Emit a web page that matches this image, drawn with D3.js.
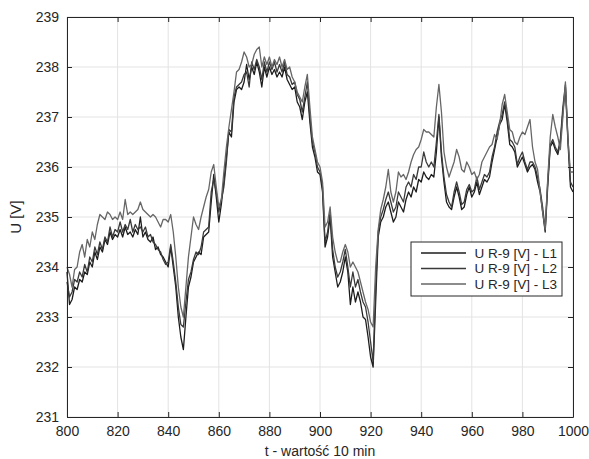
<!DOCTYPE html>
<html>
<head>
<meta charset="utf-8">
<script src="https://cdn.jsdelivr.net/npm/d3@7"></script>
<style>
  html, body { margin: 0; padding: 0; background: #fff; }
  svg text { font-family: "Liberation Sans", Arial, Helvetica, sans-serif; }
</style>
</head>
<body>
<svg id="chart" width="589" height="459"></svg>
<script>
// Voltage readings, one sample per 10-minute step, t = 800 ... 1000
const tStart = 800;
const uL1 = [
  233.9, 233.25, 233.35, 233.6, 233.55, 233.75, 233.7, 233.9, 233.85, 234.1,
  234.0, 234.3, 234.15, 234.4, 234.3, 234.55, 234.45, 234.7, 234.55, 234.65,
  234.6, 234.75, 234.6, 234.8, 234.65, 234.7, 234.6, 234.75, 234.65, 235.0,
  234.6, 234.7, 234.55, 234.5, 234.6, 234.35, 234.4, 234.25, 234.2, 234.1,
  234.0, 234.4, 234.0, 233.6, 233.0, 232.6, 232.35, 233.0, 233.6, 233.8,
  234.1, 234.2, 234.3, 234.25, 234.6, 234.65, 234.7, 235.3, 235.85, 235.4,
  234.9, 235.25, 235.7, 236.2, 236.7, 236.6, 237.3, 237.55, 237.6, 237.55,
  237.7, 238.05, 237.75, 238.0, 237.85, 238.1, 237.9, 237.6, 238.0, 237.8,
  238.0, 237.85, 237.95, 237.8, 237.9, 237.8, 238.0, 237.75, 237.65, 237.55,
  237.6, 237.3, 237.2, 236.95, 237.3, 237.5, 236.9, 236.4, 236.2, 235.9,
  235.85, 235.5, 234.4, 234.6, 235.0, 234.2, 233.9, 233.6, 233.7, 233.9,
  234.2, 233.9, 233.25, 233.6, 233.3, 233.5, 233.3, 233.0, 232.95, 232.6,
  232.2, 232.0, 233.3, 234.6, 234.9, 235.0, 235.2, 235.3, 235.1, 234.9,
  235.0, 235.3, 235.2, 235.1, 235.35, 235.5, 235.4, 235.6, 235.5, 235.75,
  235.7, 235.9, 235.8, 235.75, 235.85, 235.8, 236.3, 237.0, 236.2, 235.7,
  235.3, 235.2, 235.15, 235.4, 235.6, 235.4, 235.15, 235.2, 235.45, 235.6,
  235.4, 235.5, 235.7, 235.45, 235.6, 235.75, 235.7, 235.8, 236.1, 236.35,
  236.6, 236.85, 236.95, 237.25, 236.9, 236.45, 236.4, 236.3, 236.0, 236.1,
  236.2, 236.05, 235.9, 236.0, 236.05, 235.95, 235.7, 235.5, 235.1, 234.7,
  235.6, 236.4, 236.5, 236.35, 236.25, 236.5, 237.1, 237.6, 236.5, 235.6,
  235.5
];
const uL2 = [
  233.7, 233.4, 233.5, 233.75, 233.7, 233.9, 233.8, 234.05, 233.9, 234.2,
  234.1, 234.4, 234.25, 234.5, 234.35, 234.6, 234.5, 234.8, 234.6, 234.75,
  234.7, 234.9, 234.7, 234.85, 234.75, 234.95, 234.7, 234.85, 234.75, 234.8,
  234.7, 234.8, 234.6, 234.65, 234.5, 234.45, 234.35, 234.3, 234.15, 234.05,
  234.1, 234.45, 234.1, 233.7, 233.2, 232.85, 232.8, 233.3, 233.75, 233.9,
  234.15, 234.3, 234.25, 234.4, 234.7, 234.75, 234.8, 235.5, 235.75, 235.5,
  235.1, 235.35, 235.6, 236.1, 236.75, 236.7, 237.4, 237.6, 237.65, 237.7,
  237.85, 237.9, 237.6, 238.1, 237.95, 238.15, 238.0, 237.75, 238.1, 237.9,
  238.1, 237.95, 238.1, 237.9, 238.05, 237.9, 238.1, 237.85, 237.8, 237.65,
  237.7, 237.45, 237.35, 237.1, 237.4, 237.7, 237.0, 236.5, 236.3, 236.0,
  235.9, 235.6, 234.5, 234.7, 235.1, 234.35, 234.0, 233.8, 233.9, 234.1,
  234.35, 234.0, 233.6, 233.9, 233.6, 233.75, 233.5, 233.3, 233.2, 232.9,
  232.5, 232.1, 233.6, 234.7, 235.0, 235.15, 235.35, 235.5, 235.3, 235.1,
  235.2, 235.5, 235.4, 235.3, 235.6, 235.7, 235.6, 235.85, 235.75, 236.0,
  236.0, 236.3, 236.1, 236.0, 236.1, 236.0, 236.5, 237.05, 236.3, 235.8,
  235.45, 235.3, 235.2, 235.5, 235.7, 235.5, 235.25, 235.3, 235.55, 235.65,
  235.5, 235.55, 235.8, 235.55, 235.7, 235.85, 235.8, 235.9, 236.2, 236.4,
  236.7, 236.9, 237.05, 237.3, 237.0, 236.55, 236.5, 236.4, 236.05, 236.2,
  236.3, 236.1, 235.95, 236.1, 236.1, 236.0, 235.8, 235.55, 235.2, 234.75,
  235.7, 236.45, 236.55, 236.4, 236.3, 236.55, 237.2, 237.65, 236.6, 235.7,
  235.6
];
const uL3 = [
  234.0, 233.85, 233.6, 233.95, 234.0, 234.3, 234.45, 234.2, 234.55, 234.4,
  234.7, 234.55, 234.85, 235.05, 235.0, 234.95, 235.1, 235.05, 234.95, 235.0,
  234.95, 235.1, 234.95, 235.35, 235.05, 235.1, 235.05, 235.1, 235.15, 235.3,
  235.15, 235.1, 235.05, 235.0, 235.05, 235.0, 234.9, 234.8, 234.95, 234.95,
  234.9, 235.05, 234.7, 234.2, 233.6, 233.2, 233.0, 233.6, 234.2, 234.6,
  235.0, 234.85, 234.75, 235.0, 235.2, 235.4, 235.55, 235.9, 236.05, 235.6,
  235.2, 235.35, 235.9, 236.4, 236.8, 237.15, 237.5, 237.9, 237.95, 238.1,
  238.3, 238.2, 238.0, 238.05, 238.25, 238.35, 238.4, 238.0, 238.2, 238.05,
  238.2, 238.0, 238.15, 238.05, 238.2, 238.0, 238.15, 237.95, 238.0, 237.8,
  237.7, 237.5, 237.4, 237.3, 237.6, 237.85, 237.2, 236.6, 236.35, 236.1,
  236.0, 235.7, 234.8, 234.9, 235.2, 234.6, 234.3, 234.1, 234.1, 234.3,
  234.45, 234.3, 234.0, 234.1, 234.0, 233.9, 233.7, 233.5, 233.3, 233.15,
  232.9, 232.8, 234.0, 234.75, 235.15, 235.35, 235.6, 235.95, 235.5, 235.3,
  235.5, 235.9, 235.8, 235.85, 235.75, 235.9, 236.1, 236.25, 236.35, 236.4,
  236.55, 236.75, 236.7, 236.7, 236.65, 236.6, 237.2, 237.65, 237.1, 236.3,
  236.0, 235.8, 235.95, 236.1, 236.35, 236.2, 235.95, 235.9, 236.1, 236.0,
  235.85, 235.9, 235.75, 235.85, 236.1, 236.2, 236.3, 236.4, 236.45, 236.65,
  236.55, 236.85, 237.25, 237.45, 237.1, 236.75, 236.7, 236.5, 236.45, 236.6,
  236.7, 236.65, 236.8, 236.95, 236.4, 236.1, 235.95, 235.5, 235.1, 234.75,
  235.75, 236.6, 237.05, 236.8, 236.6, 236.35, 237.0, 237.7, 236.55, 235.9,
  235.9
];
const seriesNames = ["U R-9 [V] - L1", "U R-9 [V] - L2", "U R-9 [V] - L3"];
const seriesColors = ["#1c1c1c", "#3a3a3a", "#666666"];
const xTicks = [800, 820, 840, 860, 880, 900, 920, 940, 960, 980, 1000];
const yTicks = [231, 232, 233, 234, 235, 236, 237, 238, 239];
const xLabel = "t - wartość 10 min";
const yLabel = "U [V]";

const svg = d3.select("#chart");
const plot = { left: 67, top: 17, right: 573, bottom: 417 };

const x = d3.scaleLinear().domain([800, 1000]).range([plot.left, plot.right]);
const y = d3.scaleLinear().domain([231, 239]).range([plot.bottom, plot.top]);

const axisColor = "#262626";
const gridColor = "#e3e3e3";
const fmt = d3.format("d");

// grid
const grid = svg.append("g");
grid.selectAll("line.gx").data(xTicks).join("line")
  .attr("x1", d => x(d)).attr("x2", d => x(d))
  .attr("y1", plot.top).attr("y2", plot.bottom)
  .attr("stroke", gridColor).attr("stroke-width", 1);
grid.selectAll("line.gy").data(yTicks).join("line")
  .attr("y1", d => y(d)).attr("y2", d => y(d))
  .attr("x1", plot.left).attr("x2", plot.right)
  .attr("stroke", gridColor).attr("stroke-width", 1);

// series
const series = [uL1, uL2, uL3];
const line = d3.line()
  .x((d, i) => x(tStart + i))
  .y(d => y(d));
svg.append("g").selectAll("path").data(series).join("path")
  .attr("d", d => line(d))
  .attr("fill", "none")
  .attr("stroke", (d, i) => seriesColors[i])
  .attr("stroke-width", 1.3)
  .attr("stroke-linejoin", "round");

// axes with inward ticks on all four sides
const tickLen = 5;
const axB = svg.append("g").attr("transform", `translate(0,${plot.bottom})`)
  .call(d3.axisBottom(x).tickValues(xTicks).tickFormat(fmt).tickSizeInner(-tickLen).tickSizeOuter(0).tickPadding(9));
const axT = svg.append("g").attr("transform", `translate(0,${plot.top})`)
  .call(d3.axisTop(x).tickValues(xTicks).tickSizeInner(-tickLen).tickSizeOuter(0).tickFormat(""));
const axL = svg.append("g").attr("transform", `translate(${plot.left},0)`)
  .call(d3.axisLeft(y).tickValues(yTicks).tickFormat(fmt).tickSizeInner(-tickLen).tickSizeOuter(0).tickPadding(8));
const axR = svg.append("g").attr("transform", `translate(${plot.right},0)`)
  .call(d3.axisRight(y).tickValues(yTicks).tickSizeInner(-tickLen).tickSizeOuter(0).tickFormat(""));

[axB, axT, axL, axR].forEach(g => {
  g.select(".domain").attr("stroke", axisColor).attr("stroke-width", 1);
  g.selectAll(".tick line").attr("stroke", axisColor);
  g.selectAll(".tick text").attr("fill", "#262626").style("font-size", "14px");
});

// axis titles
svg.append("text")
  .attr("x", (plot.left + plot.right) / 2).attr("y", 456)
  .attr("text-anchor", "middle").attr("fill", "#262626")
  .style("font-size", "14px").text(xLabel);
svg.append("text")
  .attr("transform", `translate(21,${(plot.top + plot.bottom) / 2}) rotate(-90)`)
  .attr("text-anchor", "middle").attr("fill", "#262626")
  .style("font-size", "15px").text(yLabel);

// legend
const lg = svg.append("g").attr("transform", "translate(411,242)");
lg.append("rect").attr("width", 151).attr("height", 54)
  .attr("fill", "#fff").attr("stroke", axisColor).attr("stroke-width", 1);
seriesNames.forEach((name, i) => {
  const cy = 11 + i * 15.5;
  lg.append("line").attr("x1", 10).attr("x2", 55).attr("y1", cy).attr("y2", cy)
    .attr("stroke", seriesColors[i]).attr("stroke-width", 1.3);
  lg.append("text").attr("x", 146).attr("y", cy).attr("dy", "0.35em")
    .attr("text-anchor", "end").attr("fill", "#262626")
    .style("font-size", "13.5px").text(name);
});
</script>
</body>
</html>
